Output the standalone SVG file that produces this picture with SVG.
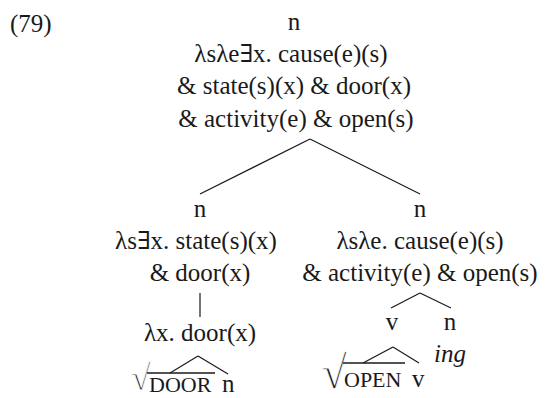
<svg xmlns="http://www.w3.org/2000/svg" width="548" height="398" viewBox="0 0 548 398">
<style>
text{font-family:"Liberation Serif","DejaVu Serif",serif;font-size:25px;fill:#1a1a1a}
.m{text-anchor:middle}
.sc{font-size:22px}
.it{font-style:italic}
.rad{stroke:#fff;stroke-width:0.9px}
line{stroke:#1a1a1a;stroke-width:1.2;fill:none}
.bar{stroke-width:1.6}
</style>
<rect width="548" height="398" fill="#fff"/>
<text x="10" y="32">(79)</text>
<g id="root">
<text class="m" x="294" y="30">n</text>
<text class="m" x="291" y="62">λsλe∃x. cause(e)(s)</text>
<text class="m" x="294" y="94">&amp; state(s)(x) &amp; door(x)</text>
<text class="m" x="296" y="127">&amp; activity(e) &amp; open(s)</text>
</g>
<g id="left">
<text class="m" x="200" y="217">n</text>
<text class="m" x="196" y="249">λs∃x. state(s)(x)</text>
<text class="m" x="200" y="281">&amp; door(x)</text>
</g>
<g id="left-door">
<text class="m" x="200" y="341">λx. door(x)</text>
</g>
<g id="door-root">
<text class="rad" x="131" y="390" style="font-size:36px">√</text>
<text class="sc" x="149" y="392">DOOR</text>
</g>
<g id="door-n">
<text x="222" y="392">n</text>
</g>
<g id="right">
<text class="m" x="420" y="217">n</text>
<text class="m" x="420" y="249">λsλe. cause(e)(s)</text>
<text class="m" x="420" y="281">&amp; activity(e) &amp; open(s)</text>
</g>
<g id="right-v">
<text class="m" x="392" y="330">v</text>
</g>
<g id="right-n">
<text class="m" x="450" y="330">n</text>
<text class="it" x="434" y="362">ing</text>
</g>
<g id="open-root">
<text class="rad" x="321.5" y="388" style="font-size:46px">√</text>
<text class="sc" x="344" y="387">OPEN</text>
</g>
<g id="open-v">
<text x="412" y="387">v</text>
</g>
<g id="connectors">
<line x1="310" y1="139" x2="200" y2="194"/>
<line x1="310" y1="139" x2="420" y2="194"/>
<line x1="200" y1="293" x2="200" y2="317"/>
<line x1="198" y1="356" x2="170" y2="373"/>
<line x1="198" y1="356" x2="228" y2="374"/>
<line x1="420" y1="293" x2="391" y2="308"/>
<line x1="420" y1="293" x2="451" y2="308"/>
<line x1="393" y1="347" x2="363" y2="363"/>
<line x1="393" y1="347" x2="419" y2="363"/>
<line class="bar" x1="147" y1="373" x2="215" y2="373"/>
<line class="bar" x1="343" y1="363" x2="405" y2="363"/>
</g>
</svg>
